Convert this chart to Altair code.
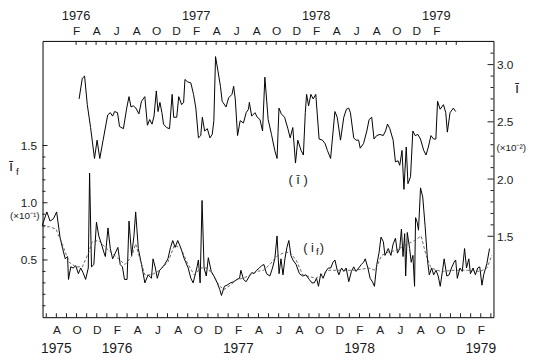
import altair as alt
import pandas as pd

# ---- data (time axis in months since Jan 1975) ----
# mean current  i-bar  (top time axis, right value axis, x10^-2)
ibar_t = [13.30, 13.62, 13.85, 14.12, 14.45, 14.84, 15.10, 15.37, 15.70, 16.16,
          16.42, 16.65, 16.85, 17.14, 17.34, 17.73, 18.06, 18.29, 18.49, 18.72,
          18.98, 19.28, 19.54, 19.87, 20.13, 20.36, 20.59, 20.79, 21.02, 21.19,
          21.38, 21.58, 21.74, 22.04, 22.34, 22.60, 22.76, 23.06, 23.26, 23.55,
          23.75, 23.88, 24.14, 24.47, 24.74, 24.97, 25.23, 25.46, 25.62, 25.85,
          26.12, 26.38, 26.61, 26.77, 26.94, 27.17, 27.43, 27.60, 27.99, 28.25,
          28.58, 28.75, 28.91, 29.14, 29.40, 29.73, 30.00, 30.23, 30.32, 30.55,
          30.88, 31.11, 31.38, 31.64, 31.87, 32.20, 32.53, 32.86, 33.09, 33.28,
          33.51, 33.84, 34.17, 34.40, 34.66, 34.93, 35.16, 35.49, 35.72, 35.91,
          36.04, 36.24, 36.47, 36.70, 36.96, 37.29, 37.62, 37.89, 38.12, 38.44,
          38.87, 39.10, 39.43, 39.76, 40.02, 40.25, 40.42, 40.75, 40.97, 41.24,
          41.40, 41.73, 42.06, 42.29, 42.55, 42.78, 43.05, 43.37, 43.70, 43.93,
          44.13, 44.36, 44.69, 44.92, 45.18, 45.35, 45.58, 45.77, 46.00, 46.17,
          46.43, 46.66, 46.89, 47.16, 47.42, 47.75, 47.98, 48.21, 48.47, 48.73,
          48.96, 49.13, 49.39, 49.72, 49.95, 50.11, 50.38, 50.71, 50.94]
ibar_v = [2.70, 2.88, 2.90, 2.65, 2.45, 2.18, 2.34, 2.18, 2.34, 2.56,
          2.58, 2.55, 2.59, 2.58, 2.46, 2.44, 2.62, 2.72, 2.63, 2.64,
          2.62, 2.57, 2.68, 2.72, 2.47, 2.52, 2.48, 2.55, 2.77, 2.59,
          2.67, 2.58, 2.48, 2.45, 2.44, 2.74, 2.54, 2.54, 2.72, 2.65,
          2.67, 2.87, 2.85, 2.84, 2.74, 2.62, 2.36, 2.38, 2.54, 2.42,
          2.44, 2.36, 2.39, 2.51, 3.07, 2.95, 2.81, 2.68, 2.63, 2.71,
          2.74, 2.81, 2.70, 2.38, 2.51, 2.49, 2.58, 2.61, 2.67, 2.55,
          2.58, 2.54, 2.52, 2.42, 2.89, 2.52, 2.39, 2.25, 2.18, 2.62,
          2.57, 2.54, 2.44, 2.36, 2.45, 2.14, 2.34, 2.25, 2.21, 2.58,
          2.74, 2.64, 2.74, 2.70, 2.74, 2.35, 2.34, 2.31, 2.25, 2.18,
          2.59, 2.54, 2.34, 2.54, 2.61, 2.62, 2.58, 2.36, 2.34, 2.34,
          2.27, 2.31, 2.42, 2.52, 2.54, 2.35, 2.38, 2.39, 2.38, 2.42,
          2.48, 2.44, 2.34, 2.15, 2.16, 2.12, 2.25, 1.91, 2.28, 1.96,
          2.02, 2.42, 2.38, 2.39, 2.35, 2.25, 2.21, 2.28, 2.38, 2.35,
          2.35, 2.68, 2.61, 2.65, 2.58, 2.41, 2.58, 2.62, 2.59]

# i_f  (bottom time axis, left value axis, x10^-1)
if_t = [5.60, 6.06, 6.38, 6.71, 7.03, 7.36, 7.62, 7.88, 8.11, 8.20,
        8.43, 8.66, 8.92, 9.18, 9.41, 9.64, 9.90, 10.16, 10.29, 10.48,
        10.71, 10.97, 11.20, 11.46, 11.69, 11.85, 12.11, 12.34, 12.57, 12.83,
        13.09, 13.32, 13.54, 13.74, 14.00, 14.19, 14.45, 14.68, 14.85, 15.11,
        15.43, 15.76, 16.08, 16.41, 16.57, 16.80, 16.99, 17.22, 17.45, 17.71,
        18.04, 18.30, 18.52, 18.75, 19.01, 19.34, 19.66, 20.05, 20.31, 20.54,
        20.90, 21.06, 21.23, 21.42, 21.62, 21.84, 22.04, 22.33, 22.59, 22.92,
        23.18, 23.34, 23.63, 23.89, 24.22, 24.55, 24.87, 25.13, 25.26, 25.52,
        25.78, 26.11, 26.34, 26.56, 26.82, 27.09, 27.31, 27.54, 27.80, 28.13,
        28.39, 28.62, 28.84, 29.04, 29.23, 29.43, 29.62, 29.82, 30.01, 30.21,
        30.41, 30.73, 31.06, 31.38, 31.71, 32.03, 32.29, 32.52, 32.75, 32.94,
        33.17, 33.40, 33.66, 33.92, 34.15, 34.38, 34.57, 34.80, 34.96, 35.22,
        35.45, 35.68, 35.94, 36.20, 36.43, 36.66, 36.92, 37.18, 37.40, 37.57,
        37.83, 38.05, 38.28, 38.48, 38.71, 38.93, 39.13, 39.36, 39.52, 39.85,
        40.11, 40.33, 40.56, 40.76, 40.98, 41.15, 41.31, 41.47, 41.57, 41.73,
        41.96, 42.12, 42.29, 42.45, 42.55, 42.71, 42.84, 43.04, 43.26, 43.49,
        43.75, 43.91, 44.14, 44.34, 44.57, 44.79, 44.99, 45.22, 45.38, 45.64,
        45.87, 46.10, 46.36, 46.52, 46.68, 46.94, 47.17, 47.40, 47.59, 47.82,
        47.98, 48.24, 48.47, 48.70, 48.90, 49.12, 49.29, 49.61, 49.87]
if_v = [0.80, 0.92, 0.84, 0.86, 0.92, 0.70, 0.60, 0.51, 0.53, 0.33,
        0.44, 0.43, 0.45, 0.38, 0.43, 0.39, 0.33, 0.43, 1.26, 0.44,
        0.46, 0.83, 0.71, 0.64, 0.57, 0.53, 0.78, 0.60, 0.51, 0.56,
        0.61, 0.46, 0.44, 0.33, 0.33, 0.84, 0.54, 0.71, 0.92, 0.60,
        0.46, 0.30, 0.37, 0.34, 0.51, 0.43, 0.34, 0.41, 0.43, 0.46,
        0.51, 0.61, 0.67, 0.61, 0.67, 0.60, 0.51, 0.43, 0.34, 0.30,
        0.43, 0.50, 0.30, 1.02, 0.43, 0.36, 0.52, 0.40, 0.36, 0.30,
        0.24, 0.19, 0.27, 0.28, 0.30, 0.31, 0.33, 0.34, 0.41, 0.33,
        0.31, 0.36, 0.39, 0.38, 0.41, 0.43, 0.45, 0.46, 0.38, 0.36,
        0.43, 0.51, 0.71, 0.38, 0.51, 0.37, 0.51, 0.61, 0.67, 0.54,
        0.50, 0.46, 0.38, 0.36, 0.37, 0.33, 0.30, 0.30, 0.34, 0.27,
        0.38, 0.34, 0.40, 0.43, 0.43, 0.48, 0.50, 0.41, 0.37, 0.43,
        0.40, 0.43, 0.31, 0.40, 0.44, 0.40, 0.43, 0.46, 0.48, 0.51,
        0.43, 0.34, 0.31, 0.27, 0.46, 0.56, 0.70, 0.66, 0.54, 0.60,
        0.54, 0.64, 0.69, 0.56, 0.60, 0.77, 0.53, 0.73, 0.36, 0.74,
        0.60, 0.48, 0.54, 0.27, 0.87, 0.83, 0.76, 1.13, 1.05, 0.80,
        0.48, 0.37, 0.43, 0.37, 0.41, 0.36, 0.27, 0.41, 0.51, 0.36,
        0.37, 0.43, 0.48, 0.50, 0.34, 0.43, 0.40, 0.60, 0.43, 0.51,
        0.38, 0.43, 0.37, 0.43, 0.44, 0.28, 0.37, 0.47, 0.60]

# smoothed i_f (dashed)
ifs_t = [5.60, 6.32, 6.97, 7.62, 8.27, 8.92, 9.57, 10.22, 10.55, 11.20,
         11.85, 12.50, 13.15, 13.80, 14.45, 14.85, 15.27, 15.76, 16.41, 17.06,
         18.04, 18.69, 19.34, 19.99, 20.64, 21.29, 21.94, 22.59, 23.08, 23.57,
         24.22, 24.87, 25.52, 26.17, 26.82, 27.48, 28.13, 28.78, 29.43, 30.08,
         30.73, 31.38, 32.68, 33.99, 35.29, 36.59, 37.89, 38.54, 39.20, 39.85,
         40.50, 41.15, 41.80, 42.45, 43.10, 43.59, 44.08, 45.05, 46.36, 47.66,
         48.96, 49.61, 50.10]
ifs_v = [0.79, 0.79, 0.77, 0.63, 0.48, 0.44, 0.44, 0.57, 0.66, 0.67,
         0.61, 0.56, 0.51, 0.46, 0.53, 0.64, 0.51, 0.37, 0.37, 0.40,
         0.48, 0.63, 0.60, 0.47, 0.37, 0.43, 0.43, 0.36, 0.28, 0.24,
         0.28, 0.33, 0.34, 0.37, 0.40, 0.41, 0.46, 0.53, 0.56, 0.57,
         0.50, 0.37, 0.34, 0.41, 0.41, 0.41, 0.43, 0.41, 0.54, 0.57,
         0.58, 0.61, 0.64, 0.67, 0.71, 0.54, 0.43, 0.40, 0.41, 0.41,
         0.40, 0.43, 0.54]

bottom_year_t = [7, 13, 25, 37, 49]
bottom_year_text = ["1975", "1976", "1977", "1978", "1979"]
top_year_t = [13, 25, 37, 49]
top_year_text = ["1976", "1977", "1978", "1979"]
bottom_month_ticks = list(range(6, 51))
top_month_ticks = list(range(13, 52))
bottom_month_labels = list(range(7, 50, 2))
top_month_labels = list(range(13, 50, 2))
left_major = [0.5, 1.0, 1.5]
left_minor = [0.1, 0.2, 0.3, 0.4, 0.6, 0.7, 0.8, 0.9, 1.1, 1.2, 1.3, 1.4]
right_major = [1.5, 2.0, 2.5, 3.0]
right_minor = [1.6, 1.7, 1.8, 1.9, 2.1, 2.2, 2.3, 2.4, 2.6, 2.7, 2.8, 2.9, 3.1]
ann_top = {"t": [35.19], "v": [1.99]}
ann_bot = {"t": [32.49], "v": [0.60]}

# ---- layout ----
W, H = 457, 280
FONT = "Liberation Sans"
INK = "#1a1a1a"
MONTH_EXPR = "substring('JFMAMJJASOND', datum.value % 12, datum.value % 12 + 1)"

xb = alt.Scale(domain=[5.633, 50.26], nice=False, zero=False)
xt = alt.Scale(domain=[9.647, 54.72], nice=False, zero=False)
yl = alt.Scale(domain=[0, 2.414], nice=False, zero=False)
yr = alt.Scale(domain=[0.793, 3.207], nice=False, zero=False)


def txt(s, x, y, size=13, align="center", baseline="middle"):
    return alt.Chart(pd.DataFrame({"s": [s]})).mark_text(
        font=FONT, fontSize=size, color=INK, align=align, baseline=baseline
    ).encode(x=alt.value(x), y=alt.value(y), text="s:N")


def XB(): return alt.X("t:Q", scale=xb, axis=None)
def XT(): return alt.X("t:Q", scale=xt, axis=None)
def YL(): return alt.Y("v:Q", scale=yl, axis=None)
def YR(): return alt.Y("v:Q", scale=yr, axis=None)


# ---- series layers carrying the axes ----
df_if = pd.DataFrame({"t": if_t, "v": if_v})
if_line = alt.Chart(df_if).mark_line(color="black", strokeWidth=1).encode(
    x=alt.X("t:Q", scale=xb, axis=alt.Axis(
        orient="bottom", values=bottom_month_labels, labelExpr=MONTH_EXPR,
        ticks=False, domain=False, grid=False, labelPadding=8, title=None,
        labelFontSize=12, labelFont=FONT, labelColor=INK)),
    y=alt.Y("v:Q", scale=yl, axis=alt.Axis(
        orient="left", values=left_major, format=".1f", ticks=False,
        domain=False, grid=False, labelPadding=6, title=None, labelFontSize=12,
        labelFont=FONT, labelColor=INK)),
)
df_ib = pd.DataFrame({"t": ibar_t, "v": ibar_v})
ib_line = alt.Chart(df_ib).mark_line(color="black", strokeWidth=1).encode(
    x=alt.X("t:Q", scale=xt, axis=alt.Axis(
        orient="top", values=top_month_labels, labelExpr=MONTH_EXPR,
        ticks=False, domain=False, grid=False, labelPadding=4, title=None,
        labelFontSize=12, labelFont=FONT, labelColor=INK)),
    y=alt.Y("v:Q", scale=yr, axis=alt.Axis(
        orient="right", values=right_major, format=".1f", ticks=False,
        domain=False, grid=False, labelPadding=3, title=None, labelFontSize=12,
        labelFont=FONT, labelColor=INK)),
)

ifs_line = alt.Chart(pd.DataFrame({"t": ifs_t, "v": ifs_v})).mark_line(
    color="#444", strokeWidth=0.8, strokeDash=[3, 2]).encode(x=XB(), y=YL())

btick = alt.Chart(pd.DataFrame({"t": bottom_month_ticks})).mark_rule(color=INK).encode(
    x=XB(), y=alt.value(H), y2=alt.value(H - 4))
ttick = alt.Chart(pd.DataFrame({"t": top_month_ticks})).mark_rule(color=INK).encode(
    x=XT(), y=alt.value(0), y2=alt.value(4))
lmaj = alt.Chart(pd.DataFrame({"v": left_major})).mark_rule(color=INK).encode(
    y=YL(), x=alt.value(0), x2=alt.value(5))
lmin = alt.Chart(pd.DataFrame({"v": left_minor})).mark_rule(color=INK).encode(
    y=YL(), x=alt.value(0), x2=alt.value(3))
rmaj = alt.Chart(pd.DataFrame({"v": right_major})).mark_rule(color=INK).encode(
    y=YR(), x=alt.value(W - 6), x2=alt.value(W))
rmin = alt.Chart(pd.DataFrame({"v": right_minor})).mark_rule(color=INK).encode(
    y=YR(), x=alt.value(W - 3), x2=alt.value(W))

byears = alt.Chart(pd.DataFrame({"t": bottom_year_t, "s": bottom_year_text})).mark_text(
    font=FONT, fontSize=14, color=INK, baseline="middle").encode(
    x=XB(), y=alt.value(H + 32), text="s:N")
tyears = alt.Chart(pd.DataFrame({"t": top_year_t, "s": top_year_text})).mark_text(
    font=FONT, fontSize=13, color=INK, baseline="middle").encode(
    x=XT(), y=alt.value(-25), text="s:N")

ann_if_a = alt.Chart(pd.DataFrame({**ann_bot, "s": ["( i"]})).mark_text(
    font=FONT, fontSize=13, color=INK, align="right", baseline="middle").encode(
    x=XB(), y=YL(), text="s:N")
ann_if_b = alt.Chart(pd.DataFrame({**ann_bot, "s": ["f"]})).mark_text(
    font=FONT, fontSize=10, color=INK, align="left", baseline="middle", dx=2, dy=4).encode(
    x=XB(), y=YL(), text="s:N")
ann_if_c = alt.Chart(pd.DataFrame({**ann_bot, "s": [" )"]})).mark_text(
    font=FONT, fontSize=13, color=INK, align="left", baseline="middle", dx=6).encode(
    x=XB(), y=YL(), text="s:N")
ann_ib = alt.Chart(pd.DataFrame({**ann_top, "s": ["( ī )"]})).mark_text(
    font=FONT, fontSize=13, color=INK, baseline="middle").encode(
    x=XT(), y=YR(), text="s:N")

chart = alt.layer(
    if_line, ib_line, ifs_line, btick, ttick, lmaj, lmin, rmaj, rmin,
    byears, tyears, ann_if_a, ann_if_b, ann_if_c, ann_ib,
    txt("ī", -32, 127, size=15),
    txt("f", -27, 133, size=10, align="left"),
    txt("(×10⁻¹)", -18, 177, size=10),
    txt("ī", W + 24, 48, size=15),
    txt("(×10⁻²)", W + 3, 109, size=10, align="left"),
).resolve_scale(
    x="independent", y="independent"
).properties(
    width=W, height=H,
    autosize=alt.AutoSizeParams(type="none"),
    padding={"left": 35, "top": 31, "right": 36, "bottom": 40},
).configure_view(
    stroke="black", strokeWidth=1
)

chart.save("out.html", embed_options={"renderer": "svg", "actions": False})
